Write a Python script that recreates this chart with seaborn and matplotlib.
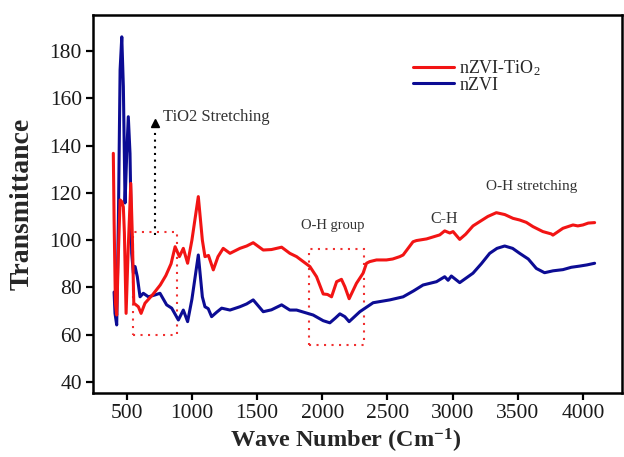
import matplotlib
matplotlib.use("Agg")
import matplotlib.pyplot as plt
import matplotlib.patches as mpatches
import seaborn as sns
import pandas as pd

# ---------------- data ----------------
wn_tio2 = [397, 403, 413, 423, 436, 449, 462, 474, 482, 495, 510, 531, 543, 554, 571, 589, 610,
           640, 700, 757, 800, 840, 871, 904, 934, 967, 1000, 1049, 1080, 1100, 1127, 1164, 1200,
           1240, 1292, 1368, 1420, 1470, 1547, 1610, 1688, 1751, 1803, 1905, 1956, 2007, 2040,
           2071, 2110, 2147, 2173, 2206, 2262, 2313, 2339, 2364, 2416, 2441, 2492, 2540, 2594,
           2620, 2696, 2722, 2800, 2901, 2939, 2978, 3003, 3054, 3100, 3156, 3207, 3270, 3335,
           3400, 3463, 3514, 3565, 3616, 3692, 3757, 3769, 3846, 3923, 3960, 3999, 4040, 4089]
t_tio2 = [136.7, 108.5, 73.4, 68.3, 94.5, 117.0, 116.3, 114.0, 103.0, 69.0, 94.5, 124.0, 101.5,
          73.3, 72.6, 71.8, 69.0, 73.3, 77.0, 81.0, 85.0, 90.0, 97.2, 93.0, 96.5, 90.2, 100.0,
          118.4, 100.0, 93.0, 93.5, 87.4, 93.0, 96.5, 94.4, 96.5, 97.5, 98.9, 95.8, 96.0, 97.0,
          94.4, 93.0, 88.8, 84.5, 77.2, 77.0, 76.0, 82.4, 83.4, 80.3, 75.2, 81.7, 86.0, 90.2,
          90.9, 91.6, 91.6, 91.6, 92.0, 93.0, 93.7, 99.3, 99.8, 100.5, 102.2, 103.9, 103.0, 103.6,
          100.3, 102.5, 106.0, 107.8, 110.0, 111.6, 110.8, 109.2, 108.5, 107.5, 105.7, 103.6,
          102.6, 102.1, 105.0, 106.4, 106.0, 106.4, 107.2, 107.4]

wn_nzvi = [403, 410, 423, 436, 449, 462, 474, 487, 500, 512, 525, 538, 551, 564, 581, 602, 627,
           666, 717, 755, 806, 845, 896, 934, 967, 1000, 1049, 1080, 1100, 1125, 1151, 1190, 1228,
           1292, 1368, 1420, 1470, 1547, 1610, 1688, 1751, 1803, 1930, 2007, 2058, 2100, 2135,
           2173, 2206, 2288, 2390, 2518, 2620, 2700, 2773, 2876, 2939, 2965, 2990, 3054, 3156,
           3220, 3284, 3340, 3399, 3460, 3514, 3580, 3642, 3705, 3770, 3846, 3910, 3974, 4030,
           4089]
t_nzvi = [78.0, 69.0, 64.1, 108.5, 172.0, 186.0, 165.0, 115.7, 136.7, 152.2, 136.7, 94.4, 86.0,
          88.8, 84.5, 76.0, 77.5, 76.0, 76.8, 77.5, 72.6, 71.2, 66.2, 70.4, 65.5, 75.0, 93.7, 76.0,
          71.8, 71.0, 67.6, 69.5, 71.2, 70.4, 71.8, 73.0, 74.7, 69.7, 70.5, 72.6, 70.4, 70.4, 68.3,
          65.9, 65.0, 67.0, 68.8, 67.6, 65.5, 69.7, 73.5, 74.7, 76.0, 78.5, 81.0, 82.4, 84.5, 83.0,
          84.8, 82.0, 86.0, 90.0, 94.4, 96.5, 97.5, 96.5, 94.4, 92.0, 88.0, 86.2, 87.0, 87.5, 88.5,
          89.0, 89.5, 90.2]

series_names = ["nZVI-TiO$_2$", "nZVI"]
x_ticks = [500, 1000, 1500, 2000, 2500, 3000, 3500, 4000]
y_ticks = [40, 60, 80, 100, 120, 140, 160, 180]

df = pd.concat([
    pd.DataFrame({"wn": wn_tio2, "T": t_tio2, "sample": series_names[0]}),
    pd.DataFrame({"wn": wn_nzvi, "T": t_nzvi, "sample": series_names[1]}),
], ignore_index=True)

# ---------------- style ----------------
sns.set_style("ticks")
plt.rcParams["font.family"] = ["Liberation Serif", "DejaVu Serif"]
plt.rcParams["mathtext.fontset"] = "custom"
plt.rcParams["mathtext.rm"] = "Liberation Serif"
plt.rcParams["mathtext.it"] = "Liberation Serif:italic"
plt.rcParams["mathtext.bf"] = "Liberation Serif:bold"

fig = plt.figure(figsize=(6.24, 4.57), dpi=100)
ax = fig.add_axes([0.149, 0.140, 0.848, 0.827])

palette = {series_names[0]: "#f21414", series_names[1]: "#0c0c94"}
sns.lineplot(data=df, x="wn", y="T", hue="sample", palette=palette, estimator=None,
             sort=False, linewidth=2.2, ax=ax, legend=True)
# red series drawn above blue
lines = ax.get_lines()
if len(lines) >= 2:
    lines[0].set_zorder(3)
    lines[1].set_zorder(2)

ax.set_xlim(241, 4300)
ax.set_ylim(35.3, 195.2)
ax.set_xticks(x_ticks)
ax.set_yticks(y_ticks)
ax.tick_params(axis="both", labelsize=15.5, width=1.6, length=5, direction="out",
               colors="black", labelcolor="#1a1a1a", pad=3)
for s in ax.spines.values():
    s.set_linewidth(1.8)
    s.set_color("black")

ax.set_xlabel("Wave Number (Cm$^{\\mathbf{-1}}$)", fontsize=17.5, fontweight="bold")
ax.set_ylabel("Transmittance", fontsize=20, fontweight="bold")
ax.xaxis.set_label_coords(0.477, -0.09)
ax.yaxis.set_label_coords(-0.11, 0.5)

# legend
leg = ax.legend(loc="upper left", bbox_to_anchor=(0.648, 0.893), bbox_transform=fig.transFigure,
                frameon=False, fontsize=13, handlelength=2.25, handletextpad=0.3,
                borderpad=0, labelspacing=-0.05, title=None)
for line in leg.get_lines():
    line.set_linewidth(2.2)

# annotations: dotted boxes
box_style = dict(fill=False, edgecolor="#f03030", linewidth=1.5, linestyle=(0, (1, 2.6)))
ax.add_patch(mpatches.Rectangle((551, 59.7), 889 - 551, 103.4 - 59.7, **box_style))
ax.add_patch(mpatches.Rectangle((1897, 55.8), 2320 - 1897, 96.1 - 55.8, **box_style))

# dotted arrow
arrow_x = 718
ax.plot([arrow_x, arrow_x], [102, 147], color="black", linewidth=1.5, linestyle=(0, (1, 2.2)))
ax.plot([arrow_x], [149.5], marker="^", markersize=6, color="black", linestyle="none")

txt_color = "#333333"
ax.text(775, 152, "TiO2 Stretching", fontsize=12, color=txt_color, va="center", ha="left")
ax.text(2077, 106.3, "O-H group", fontsize=10.5, color=txt_color, va="center", ha="center")
ax.text(2933, 109, "C-H", fontsize=11.5, color=txt_color, va="center", ha="center")
ax.text(3608, 122.5, "O-H stretching", fontsize=11, color=txt_color, va="center", ha="center")

fig.savefig("out.png", dpi=100)
